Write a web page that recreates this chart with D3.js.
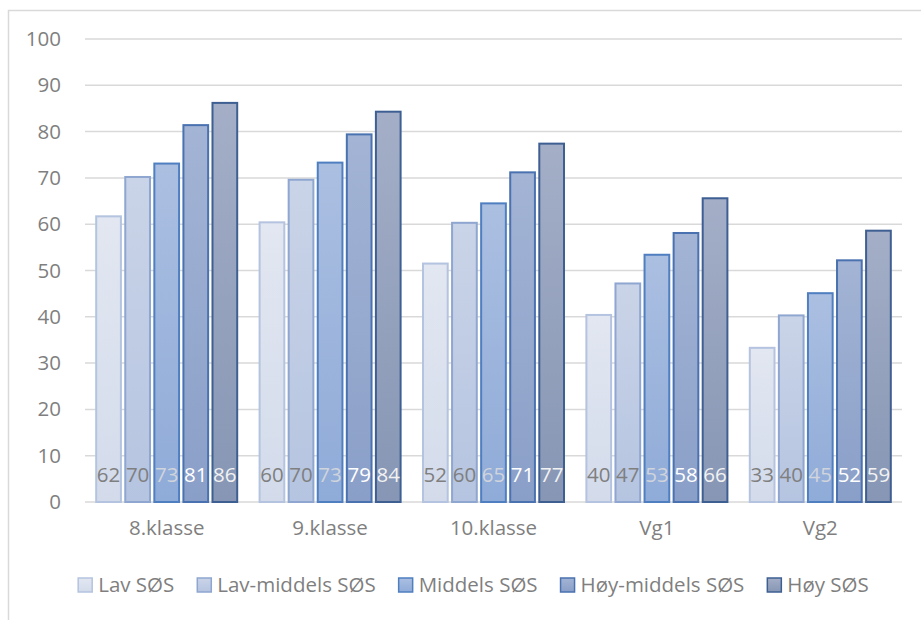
<!DOCTYPE html>
<html>
<head>
<meta charset="utf-8">
<script src="https://cdn.jsdelivr.net/npm/d3@7"></script>
<style>
  body { margin: 0; background: #fff; }
  svg text { font-family: "Open Sans", sans-serif; }
</style>
</head>
<body>
<div id="chart"></div>
<script>
// Data
const categories = ['8.klasse', '9.klasse', '10.klasse', 'Vg1', 'Vg2'];
const seriesNames = ['Lav SØS', 'Lav-middels SØS', 'Middels SØS', 'Høy-middels SØS', 'Høy SØS'];
const lavValues = [61.7, 60.4, 51.5, 40.4, 33.3];
const lavMiddelsValues = [70.2, 69.6, 60.3, 47.2, 40.3];
const middelsValues = [73.1, 73.3, 64.5, 53.4, 45.1];
const hoyMiddelsValues = [81.4, 79.4, 71.2, 58.1, 52.2];
const hoyValues = [86.2, 84.3, 77.4, 65.6, 58.6];
const yTicks = [0, 10, 20, 30, 40, 50, 60, 70, 80, 90, 100];

const seriesValues = [lavValues, lavMiddelsValues, middelsValues, hoyMiddelsValues, hoyValues];

// Styling per series (top gradient colour, bottom gradient colour, outline, label colour)
const seriesStyle = [
  {top: '#e2e7f1', bottom: '#d3dbeb', stroke: '#b4c3df', label: '#7f7f7f'},
  {top: '#cad4e8', bottom: '#b5c4e0', stroke: '#8ea6d0', label: '#7f7f7f'},
  {top: '#abbfe1', bottom: '#8fabd8', stroke: '#4f7fc0', label: '#d0d4dc'},
  {top: '#a3b4d5', bottom: '#8a9fc8', stroke: '#4a72b0', label: '#ffffff'},
  {top: '#a4aec7', bottom: '#8696b4', stroke: '#3e5f92', label: '#f2f2f2'}
];

const width = 921, height = 620;
const margin = {top: 39, right: 19, bottom: 118, left: 85};
const innerW = width - margin.left - margin.right;
const innerH = height - margin.top - margin.bottom;

const svg = d3.select('#chart').append('svg')
  .attr('width', width)
  .attr('height', height);

// Chart frame (runs past the right and bottom edges, as in the picture)
svg.append('rect')
  .attr('x', 8.5).attr('y', 10.5)
  .attr('width', 930).attr('height', 640)
  .attr('fill', 'none')
  .attr('stroke', '#d9d9d9')
  .attr('stroke-width', 1.5);

const defs = svg.append('defs');
seriesStyle.forEach((s, i) => {
  const g = defs.append('linearGradient')
    .attr('id', 'grad' + i)
    .attr('x1', 0).attr('y1', 0).attr('x2', 0).attr('y2', 1);
  g.append('stop').attr('offset', '0%').attr('stop-color', s.top);
  g.append('stop').attr('offset', '100%').attr('stop-color', s.bottom);
});

const chart = svg.append('g')
  .attr('transform', `translate(${margin.left},${margin.top})`);

const x0 = d3.scaleBand()
  .domain(categories)
  .range([0, innerW])
  .paddingInner(0.137)
  .paddingOuter(0.0685);

const x1 = d3.scaleBand()
  .domain(seriesNames)
  .range([0, x0.bandwidth()])
  .paddingInner(0.15)
  .paddingOuter(0);

const y = d3.scaleLinear()
  .domain([0, 100])
  .range([innerH, 0]);

// Gridlines
chart.append('g')
  .selectAll('line')
  .data(yTicks)
  .join('line')
  .attr('x1', 0)
  .attr('x2', innerW)
  .attr('y1', d => y(d))
  .attr('y2', d => y(d))
  .attr('stroke', '#d9d9d9')
  .attr('stroke-width', 1.5);

// Y axis labels
const yAxis = d3.axisLeft(y)
  .tickValues(yTicks)
  .tickSize(0)
  .tickPadding(24);
chart.append('g')
  .call(yAxis)
  .call(g => g.select('.domain').remove())
  .selectAll('text')
  .attr('fill', '#7f7f7f')
  .style('font-size', '20.5px');

// X axis labels
const xAxis = d3.axisBottom(x0)
  .tickSize(0)
  .tickPadding(18);
chart.append('g')
  .attr('transform', `translate(0,${innerH})`)
  .call(xAxis)
  .call(g => g.select('.domain').remove())
  .selectAll('text')
  .attr('fill', '#7f7f7f')
  .style('font-size', '20.5px');

// Bars
const rows = [];
categories.forEach((c, ci) => {
  seriesNames.forEach((s, si) => {
    rows.push({category: c, series: s, si: si, value: seriesValues[si][ci]});
  });
});

chart.append('g')
  .selectAll('rect')
  .data(rows)
  .join('rect')
  .attr('x', d => x0(d.category) + x1(d.series))
  .attr('y', d => y(d.value))
  .attr('width', x1.bandwidth())
  .attr('height', d => y(0) - y(d.value))
  .attr('fill', d => `url(#grad${d.si})`)
  .attr('stroke', d => seriesStyle[d.si].stroke)
  .attr('stroke-width', 2);

// Labels inside base
chart.append('g')
  .selectAll('text')
  .data(rows)
  .join('text')
  .attr('x', d => x0(d.category) + x1(d.series) + x1.bandwidth() / 2)
  .attr('y', y(0) - 20)
  .attr('text-anchor', 'middle')
  .attr('fill', d => seriesStyle[d.si].label)
  .style('font-size', '20.5px')
  .text(d => Math.round(d.value));

// Legend
const legend = svg.append('g');
const items = legend.selectAll('g')
  .data(seriesNames)
  .join('g');
items.append('rect')
  .attr('width', 14).attr('height', 14)
  .attr('y', -7)
  .attr('fill', (d, i) => `url(#grad${i})`)
  .attr('stroke', (d, i) => seriesStyle[i].stroke)
  .attr('stroke-width', 1.5);
items.append('text')
  .attr('x', 20)
  .attr('dy', '0.35em')
  .attr('fill', '#7f7f7f')
  .style('font-size', '20.5px')
  .text(d => d);

let lx = 0;
items.each(function() {
  const w = this.getBBox().width;
  d3.select(this).attr('transform', `translate(${lx},0)`);
  lx += w + 23;
});
const legendW = lx - 23;
legend.attr('transform', `translate(${473.5 - legendW / 2},585)`);
</script>
</body>
</html>
